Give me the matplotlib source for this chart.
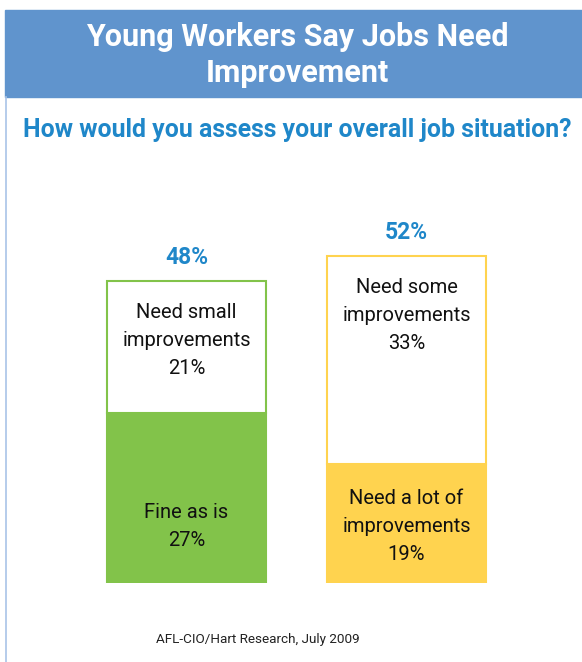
import matplotlib
matplotlib.use('Agg')
import matplotlib.pyplot as plt
from matplotlib.lines import Line2D
from matplotlib.patches import Rectangle

# data
groups = ['Fine / small', 'Some / a lot']
bottom_vals = [27, 19]
top_vals = [21, 33]
totals = ['48%', '52%']
bottom_labels = ['Fine as is\n27%', 'Need a lot of\nimprovements\n19%']
top_labels = ['Need small\nimprovements\n21%', 'Need some\nimprovements\n33%']

green = '#82c34a'
yellow = '#ffd34f'
banner = '#6094cd'
blue_txt = '#1f87c9'
narrow = 'Roboto'

W, H = 582, 662
fig = plt.figure(figsize=(W / 100, H / 100), dpi=100)

def fx(px):
    return px / W

def fy(py):
    return 1 - py / H

# title banner and left border
fig.patches.append(Rectangle((fx(5), fy(97)), fx(577), (97 - 10) / H,
                             transform=fig.transFigure, color=banner, zorder=0))
fig.lines.append(Line2D([fx(5.5), fx(5.5)], [fy(97), 0], transform=fig.transFigure,
                        color='#a9c4e8', lw=1.2))
fig.text(fx(297), fy(55), 'Young Workers Say Jobs Need\nImprovement', color='white',
         fontsize=22, fontweight='bold', ha='center', va='center', linespacing=1.25,
         family=narrow)
fig.text(fx(297), fy(130), 'How would you assess your overall job situation?', color=blue_txt,
         fontsize=17.9, fontweight='bold', ha='center', va='center', family=narrow)
fig.text(fx(258), fy(639), 'AFL-CIO/Hart Research, July 2009', color='#222222',
         fontsize=9.7, ha='center', va='center', family=narrow)

# bars
ax = fig.add_axes([fx(76.5), fy(583), fx(440), 377 / H])
x = [0, 1]
colors = [green, yellow]
bw = 159 / 220
ax.bar(x, bottom_vals, width=bw, color=colors, edgecolor=colors, lw=1.5)
ax.bar(x, top_vals, bottom=bottom_vals, width=bw, color='white', edgecolor=colors, lw=1.5)
tot = [b + t for b, t in zip(bottom_vals, top_vals)]
for i in x:
    ax.text(i, tot[i] + 3.8, totals[i], color=blue_txt, fontsize=16.5, fontweight='bold',
            ha='center', va='center', family=narrow)
    ax.text(i, tot[i] - 9.4, top_labels[i], fontsize=14.5, ha='center',
            va='center', linespacing=1.6, family=narrow, color='#111111')
    ax.text(i, 9.0, bottom_labels[i], fontsize=14.5, color='#111111',
            ha='center', va='center', linespacing=1.6, family=narrow)
ax.set_xlim(-0.5, 1.5)
ax.set_ylim(0, 60)
ax.axis('off')

fig.savefig('out.png', dpi=100)
